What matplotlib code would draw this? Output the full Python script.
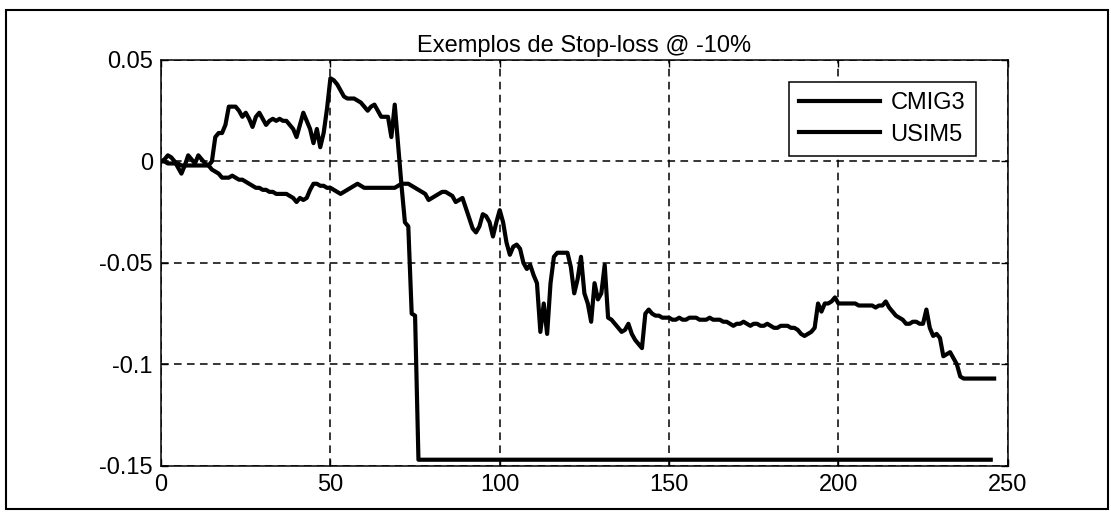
import matplotlib
matplotlib.use("Agg")
import matplotlib.pyplot as plt
from matplotlib.patches import Rectangle
import numpy as np

plt.rcParams["font.family"] = ["Liberation Sans", "DejaVu Sans"]
plt.rcParams["axes.unicode_minus"] = False

TITLE = "Exemplos de Stop-loss @ -10%"

# CMIG3: daily values until the stop is hit, then flat to the end of the window
CMIG3_DAYS = list(range(77)) + [245]
CMIG3 = [
    0.000, 0.001, 0.003, 0.002, 0.000, -0.003, -0.006, -0.002, 0.003, 0.001,
    -0.001, 0.003, 0.001, -0.001, -0.002, 0.000, 0.012, 0.014, 0.014, 0.018,
    0.027, 0.027, 0.027, 0.025, 0.022, 0.024, 0.021, 0.017, 0.022, 0.024,
    0.021, 0.018, 0.020, 0.021, 0.020, 0.021, 0.020, 0.020, 0.018, 0.016,
    0.012, 0.018, 0.024, 0.020, 0.016, 0.009, 0.016, 0.007, 0.014, 0.026,
    0.041, 0.040, 0.038, 0.035, 0.032, 0.031, 0.031, 0.031, 0.030, 0.029,
    0.027, 0.025, 0.027, 0.028, 0.025, 0.022, 0.022, 0.022, 0.012, 0.028,
    0.008, -0.012, -0.030, -0.032, -0.075, -0.076, -0.147,
    -0.147,
]

USIM5 = [
    0.000, 0.000, -0.001, -0.001, -0.001, -0.001, -0.002, -0.002, -0.002, -0.002,
    -0.002, -0.002, -0.002, -0.002, -0.002, -0.004, -0.005, -0.006, -0.008, -0.008,
    -0.008, -0.007, -0.008, -0.009, -0.009, -0.010, -0.011, -0.012, -0.013, -0.013,
    -0.014, -0.014, -0.015, -0.015, -0.016, -0.016, -0.016, -0.016, -0.017, -0.018,
    -0.020, -0.018, -0.019, -0.018, -0.014, -0.011, -0.011, -0.012, -0.012, -0.013,
    -0.013, -0.014, -0.015, -0.016, -0.015, -0.014, -0.013, -0.012, -0.011, -0.012,
    -0.013, -0.013, -0.013, -0.013, -0.013, -0.013, -0.013, -0.013, -0.013, -0.013,
    -0.012, -0.011, -0.011, -0.011, -0.012, -0.013, -0.014, -0.015, -0.016, -0.019,
    -0.018, -0.017, -0.016, -0.015, -0.015, -0.016, -0.017, -0.020, -0.019, -0.018,
    -0.023, -0.028, -0.033, -0.035, -0.032, -0.026, -0.027, -0.030, -0.037, -0.030,
    -0.024, -0.030, -0.040, -0.046, -0.042, -0.041, -0.043, -0.050, -0.053, -0.051,
    -0.056, -0.060, -0.084, -0.070, -0.085, -0.060, -0.047, -0.045, -0.045, -0.045,
    -0.045, -0.052, -0.065, -0.058, -0.047, -0.065, -0.070, -0.079, -0.060, -0.068,
    -0.065, -0.051, -0.077, -0.078, -0.080, -0.082, -0.084, -0.083, -0.080, -0.085,
    -0.088, -0.090, -0.092, -0.075, -0.073, -0.075, -0.076, -0.076, -0.077, -0.077,
    -0.077, -0.078, -0.078, -0.077, -0.078, -0.078, -0.077, -0.077, -0.077, -0.078,
    -0.078, -0.078, -0.077, -0.078, -0.078, -0.078, -0.079, -0.079, -0.080, -0.081,
    -0.080, -0.080, -0.079, -0.080, -0.081, -0.080, -0.080, -0.081, -0.081, -0.080,
    -0.081, -0.082, -0.082, -0.081, -0.081, -0.081, -0.082, -0.082, -0.083, -0.085,
    -0.086, -0.085, -0.084, -0.082, -0.070, -0.074, -0.070, -0.070, -0.069, -0.067,
    -0.070, -0.070, -0.070, -0.070, -0.070, -0.070, -0.071, -0.071, -0.071, -0.071,
    -0.071, -0.072, -0.071, -0.071, -0.069, -0.072, -0.074, -0.076, -0.077, -0.078,
    -0.080, -0.080, -0.079, -0.079, -0.080, -0.080, -0.073, -0.082, -0.086, -0.085,
    -0.087, -0.096, -0.095, -0.094, -0.097, -0.100, -0.106, -0.107, -0.107, -0.107,
    -0.107, -0.107, -0.107, -0.107, -0.107, -0.107, -0.107,
]

XTICKS = [0, 50, 100, 150, 200, 250]
YTICKS = [0.05, 0, -0.05, -0.1, -0.15]
YTICK_LABELS = ["0.05", "0", "-0.05", "-0.1", "-0.15"]

fig = plt.figure(figsize=(11.11, 5.17), dpi=100)
ax = fig.add_axes([0.145, 0.099, 0.762, 0.785])

ax.plot(CMIG3_DAYS, CMIG3, color="black", lw=3.0, label="CMIG3")
ax.plot(np.arange(len(USIM5)), USIM5, color="black", lw=3.0, label="USIM5")

ax.set_xlim(0, 250)
ax.set_ylim(-0.15, 0.05)
ax.set_xticks(XTICKS)
ax.set_yticks(YTICKS)
ax.set_yticklabels(YTICK_LABELS)
ax.tick_params(direction="in", length=5, width=1, top=True, right=True,
               labelsize=17, pad=6, colors="black")
ax.grid(True, color="black", lw=1.1, ls=(0, (5, 3.5)))
for s in ax.spines.values():
    s.set_linewidth(1.1)
ax.set_title(TITLE, fontsize=17, pad=6)

leg = ax.legend(loc="upper right", bbox_to_anchor=(0.976, 0.976), fontsize=17,
                fancybox=False, edgecolor="black", framealpha=1,
                handlelength=3.4, handletextpad=0.45, borderpad=0.45, labelspacing=0.4)
leg.get_frame().set_linewidth(1.1)

fig.patches.append(Rectangle((0.005, 0.015), 0.992, 0.965, transform=fig.transFigure,
                             fill=False, edgecolor="black", lw=1.5))

fig.savefig("out.png", dpi=100)
